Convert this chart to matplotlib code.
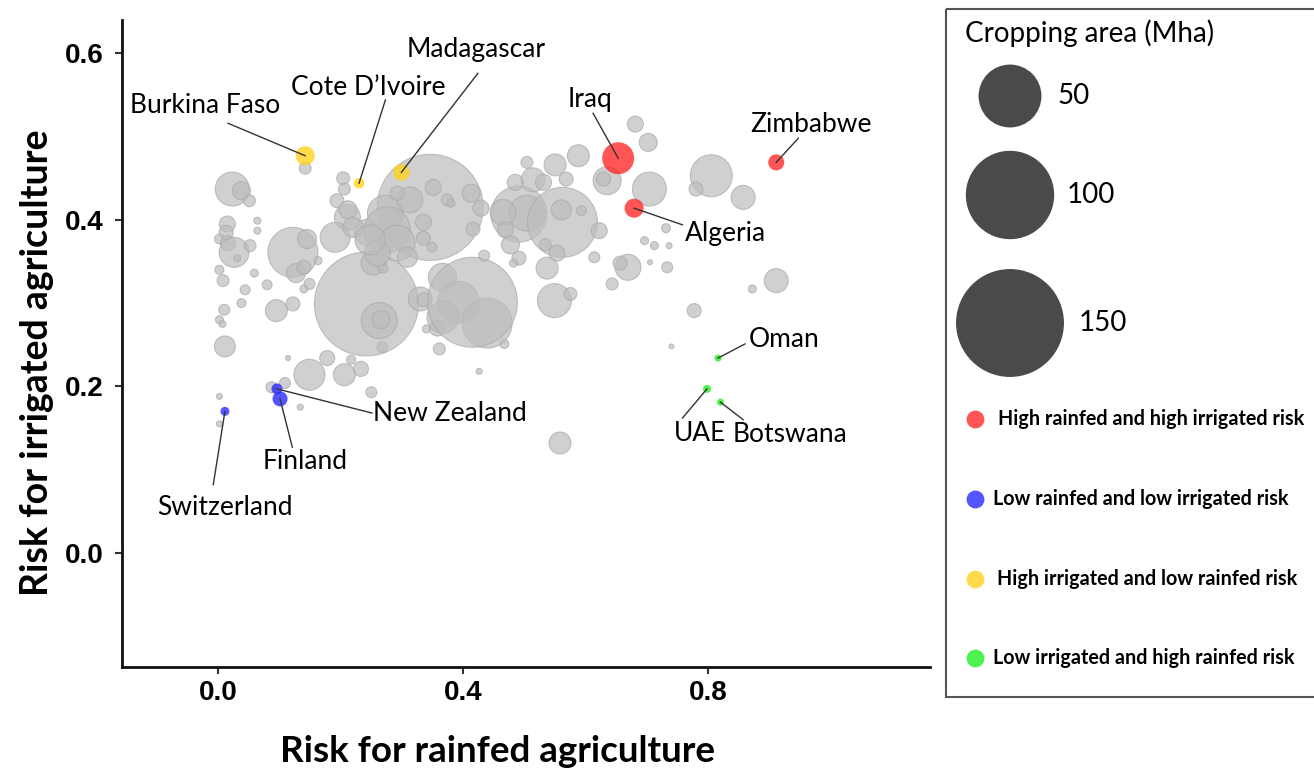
import matplotlib
matplotlib.use("Agg")
import matplotlib.pyplot as plt
from matplotlib.patches import Rectangle

# ---------------- data ----------------
# gray countries: rainfed risk, irrigated risk, cropping area (Mha)
gray_x = [0.142, 0.023, 0.038, 0.051, 0.204, 0.206, 0.194, 0.064, 0.064, 0.015,
          0.013, 0.002, 0.016, 0.026, 0.052, 0.031, 0.122, 0.145, 0.127, 0.140,
          0.149, 0.140, 0.163, 0.002, 0.008, 0.044, 0.059, 0.080, 0.038, 0.010,
          0.002, 0.007, 0.095, 0.122, 0.011, 0.114, 0.149, 0.178, 0.206, 0.217,
          0.233, 0.250, 0.109, 0.087, 0.134, 0.002, 0.002, 0.268, 0.361, 0.426,
          0.467, 0.340, 0.358, 0.242, 0.263, 0.266, 0.330, 0.336, 0.366, 0.392,
          0.367, 0.439, 0.415, 0.434, 0.491, 0.482, 0.253, 0.269,
          0.346, 0.211, 0.191, 0.243, 0.273, 0.313, 0.292, 0.276, 0.292, 0.260,
          0.309, 0.335, 0.335, 0.349, 0.351, 0.374, 0.380, 0.413, 0.429, 0.416,
          0.212, 0.220, 0.248,
          0.491, 0.504, 0.465, 0.562, 0.560, 0.593, 0.622, 0.504, 0.514, 0.531,
          0.485, 0.550, 0.588, 0.568, 0.469, 0.477, 0.534, 0.553, 0.537, 0.614,
          0.669, 0.656, 0.643, 0.549, 0.575, 0.558,
          0.681, 0.702, 0.635, 0.629, 0.704, 0.805, 0.780, 0.857, 0.731, 0.696,
          0.712, 0.736, 0.705, 0.733, 0.911, 0.872, 0.777, 0.740]
gray_y = [0.462, 0.437, 0.435, 0.423, 0.450, 0.437, 0.423, 0.399, 0.387, 0.395,
          0.385, 0.377, 0.372, 0.361, 0.369, 0.354, 0.361, 0.377, 0.336, 0.343,
          0.323, 0.317, 0.351, 0.340, 0.327, 0.316, 0.336, 0.322, 0.300, 0.292,
          0.280, 0.275, 0.291, 0.299, 0.248, 0.234, 0.214, 0.234, 0.214, 0.232,
          0.221, 0.193, 0.204, 0.199, 0.175, 0.188, 0.155, 0.247, 0.245, 0.218,
          0.251, 0.269, 0.270, 0.299, 0.279, 0.280, 0.305, 0.304, 0.331, 0.301,
          0.283, 0.276, 0.301, 0.357, 0.354, 0.348, 0.348, 0.342,
          0.415, 0.403, 0.379, 0.385, 0.408, 0.424, 0.432, 0.388, 0.372, 0.360,
          0.355, 0.397, 0.378, 0.367, 0.439, 0.424, 0.420, 0.432, 0.414, 0.389,
          0.412, 0.391, 0.376,
          0.407, 0.408, 0.409, 0.397, 0.412, 0.411, 0.387, 0.469, 0.448, 0.445,
          0.445, 0.466, 0.477, 0.449, 0.388, 0.370, 0.370, 0.360, 0.342, 0.355,
          0.343, 0.348, 0.323, 0.303, 0.311, 0.132,
          0.515, 0.493, 0.447, 0.449, 0.437, 0.453, 0.437, 0.427, 0.390, 0.375,
          0.369, 0.369, 0.349, 0.343, 0.327, 0.317, 0.291, 0.248]
gray_area = [1.9, 15.3, 4.3, 1.9, 2.2, 1.9, 2.6, 0.65, 0.65, 3.4,
             2.6, 1.3, 3.0, 11.9, 1.9, 0.65, 33.1, 4.8, 4.8, 2.6,
             1.6, 0.85, 0.85, 1.07, 1.9, 1.3, 0.85, 1.3, 1.07, 1.6,
             0.85, 0.65, 6.4, 2.6, 5.8, 0.33, 12.7, 3.0, 6.4, 1.07,
             3.0, 1.6, 1.6, 1.6, 0.48, 0.48, 0.48, 1.6, 1.9, 0.48,
             1.07, 0.85, 3.4, 143.0, 17.1, 4.3, 7.6, 2.6, 10.4, 23.3,
             13.5, 33.1, 107.0, 1.6, 2.6, 0.85, 7.6, 1.3,
             149.0, 8.9, 11.9, 8.9, 17.1, 8.9, 2.6, 28.0, 17.1, 8.9,
             5.3, 3.4, 2.6, 1.3, 3.4, 1.9, 0.85, 4.3, 3.4, 2.6,
             4.3, 5.3, 11.9,
             41.5, 17.1, 8.9, 64.8, 5.3, 1.3, 3.4, 1.9, 7.6, 3.4,
             3.4, 6.4, 6.4, 2.6, 3.4, 4.3, 1.9, 3.4, 6.4, 1.6,
             8.9, 2.6, 1.9, 15.3, 2.2, 6.4,
             3.4, 4.3, 10.4, 2.6, 15.3, 23.3, 2.6, 7.6, 1.07, 0.85,
             0.85, 0.48, 0.33, 1.6, 7.6, 0.85, 2.6, 0.33]

# highlighted countries
names = ["Burkina Faso", "Cote D\u2019Ivoire", "Madagascar", "Iraq", "Algeria", "Zimbabwe",
         "Switzerland", "New Zealand", "Finland", "Oman", "UAE", "Botswana"]
hl_x = [0.142, 0.230, 0.299, 0.653, 0.679, 0.911, 0.011, 0.096, 0.101, 0.816, 0.798, 0.820]
hl_y = [0.477, 0.444, 0.457, 0.474, 0.414, 0.469, 0.170, 0.197, 0.185, 0.234, 0.197, 0.181]
hl_area = [4.8, 1.5, 3.6, 13.5, 4.8, 3.4, 1.07, 1.6, 3.0, 0.65, 0.85, 0.65]
hl_group = ["yellow", "yellow", "yellow", "red", "red", "red",
            "blue", "blue", "blue", "green", "green", "green"]

group_labels = ["High rainfed and high irrigated risk",
                "Low rainfed and low irrigated risk",
                "High irrigated and low rainfed risk",
                "Low irrigated and high rainfed risk"]
group_keys = ["red", "blue", "yellow", "green"]
size_legend = [50, 100, 150]

x_ticks = [0.0, 0.4, 0.8]
y_ticks = [0.0, 0.2, 0.4, 0.6]

# ---------------- style ----------------
colors = {"red": "#ff2a2a", "blue": "#2a2aff", "yellow": "#ffd21f", "green": "#22ee22"}
S = 39.2  # points^2 per Mha

# label placement: (text x, text y, leader start x, leader start y) in data units
label_pos = {
    "Burkina Faso": (-0.021, 0.537, 0.016, 0.516),
    "Cote D\u2019Ivoire": (0.245, 0.559, 0.273, 0.544),
    "Madagascar": (0.421, 0.604, 0.424, 0.576),
    "Iraq": (0.607, 0.544, 0.612, 0.528),
    "Zimbabwe": (0.967, 0.514, 0.947, 0.498),
    "Algeria": (0.828, 0.384, 0.758, 0.394),
    "Oman": (0.924, 0.256, 0.860, 0.251),
    "UAE": (0.786, 0.143, 0.758, 0.162),
    "Botswana": (0.934, 0.142, 0.857, 0.160),
    "New Zealand": (0.379, 0.168, 0.251, 0.168),
    "Finland": (0.142, 0.110, 0.121, 0.127),
    "Switzerland": (0.011, 0.055, -0.008, 0.082),
}

LBL = "Lato"

W, H = 1314, 774
fig = plt.figure(figsize=(W / 100, H / 100), dpi=100)
ax = fig.add_axes([122 / W, 1 - 667 / H, (930 - 122) / W, (667 - 20) / H])

ax.scatter(gray_x, gray_y, s=[a * S for a in gray_area], color="#bdbdbd", alpha=0.7,
           edgecolor="#aaaaaa", linewidth=0.8, zorder=2)
ax.scatter(hl_x, hl_y, s=[a * S for a in hl_area], color=[colors[g] for g in hl_group],
           alpha=0.8, linewidth=0, zorder=3)

for i, n in enumerate(names):
    tx, ty, lx, ly = label_pos[n]
    ax.plot([lx, hl_x[i]], [ly, hl_y[i]], color="#333333", lw=1.0, zorder=4)
    ax.text(tx, ty, n, ha="center", va="center", fontsize=19, family=LBL, zorder=5)

ax.set_xlim(-0.157, 1.162)
ax.set_ylim(-0.137, 0.640)
ax.set_xticks(x_ticks)
ax.set_yticks(y_ticks)
ax.set_xticklabels([f"{v:.1f}" for v in x_ticks])
ax.set_yticklabels([f"{v:.1f}" for v in y_ticks])
for lab in ax.get_xticklabels() + ax.get_yticklabels():
    lab.set_family("Liberation Sans")
    lab.set_fontweight("bold")
    lab.set_fontsize(20)
ax.tick_params(direction="out", length=5, width=1.5, color="#333333")
ax.tick_params(axis="x", pad=4)
ax.tick_params(axis="y", pad=8)
for s in ["top", "right"]:
    ax.spines[s].set_visible(False)
for s in ["left", "bottom"]:
    ax.spines[s].set_linewidth(2)
    ax.spines[s].set_color("#111111")

ax.set_xlabel("Risk for rainfed agriculture", fontsize=26.5, fontweight="bold", family=LBL)
ax.xaxis.set_label_coords(0.465, -0.131)
ax.xaxis.label.set_va("center")
ax.set_ylabel("Risk for irrigated agriculture", fontsize=27, fontweight="bold", family=LBL)
ax.yaxis.set_label_coords(-0.105, 0.4706)
ax.yaxis.label.set_va("center")
ax.yaxis.label.set_ha("center")

# ---------------- legend (pixel coordinates) ----------------
lg = fig.add_axes([945 / W, 1 - 698 / H, (W - 945) / W, (698 - 8) / H])
lg.set_xlim(945, W)
lg.set_ylim(698, 8)
lg.axis("off")
lg.add_patch(Rectangle((946, 9), W - 946 + 5, 688, fill=False, edgecolor="#555555",
                       linewidth=1.5, clip_on=False))
lg.text(965, 33, "Cropping area (Mha)", fontsize=20, family=LBL, va="center", ha="left")
size_y = [96, 195, 323]
size_tx = [1057, 1067, 1079]
lg.scatter([1010] * 3, size_y, s=[v * S for v in size_legend], color="#4a4a4a", zorder=3,
           clip_on=False)
for v, yy, tx in zip(size_legend, size_y, size_tx):
    lg.text(tx, yy, str(v), fontsize=20, family=LBL, va="center", ha="left")

grp_y = [419, 499, 579, 658]
grp_tx = [998, 993, 997, 993]
for k, lab, yy, tx in zip(group_keys, group_labels, grp_y, grp_tx):
    lg.scatter([975], [yy], s=165, color=colors[k], alpha=0.8, linewidth=0, zorder=3)
    lg.text(tx, yy, lab, fontsize=14.2, fontweight="bold", family=LBL, va="center", ha="left")

fig.savefig("out.png", dpi=100)
